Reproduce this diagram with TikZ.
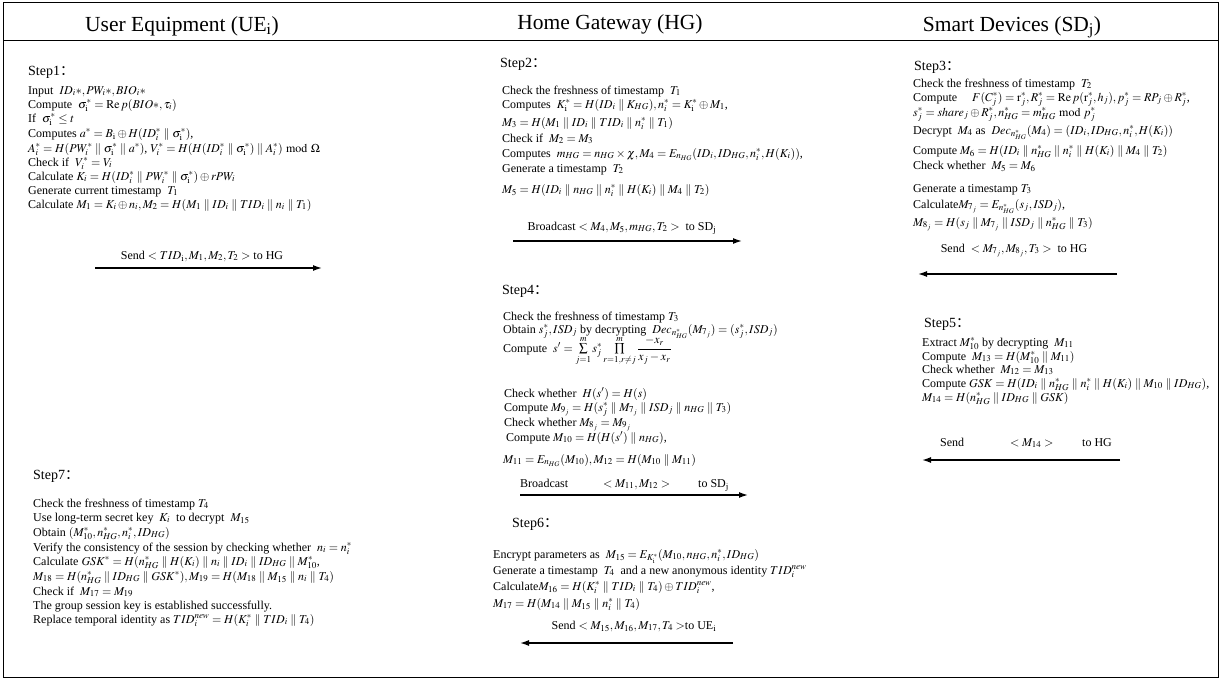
\documentclass[tikz,border=0pt]{standalone}
\usepackage{mathptmx}
\usepackage{fontspec}
\setmainfont{Liberation Serif}
\newfontfamily\cjkf{Noto Sans CJK SC}
\usetikzlibrary{arrows.meta}
\tikzset{
  ln/.style={anchor=base west, inner sep=0pt, font=\fontsize{12}{14}\selectfont},
  lbl/.style={anchor=base, inner sep=0pt, font=\fontsize{12}{14}\selectfont},
  hd/.style={anchor=base west, inner sep=0pt, font=\fontsize{14}{16}\selectfont},
  ttl/.style={anchor=base, inner sep=0pt, font=\fontsize{21.5}{24}\selectfont},
  msg/.style={line width=1.4pt, -{Latex[length=9pt,width=6pt]}},
  frame/.style={line width=0.9pt},
}
\newcommand\stc{{\cjkf ：}}
\newcommand\pl{\parallel}
\newcommand\ri{{\mathrm i}}
\begin{document}
\begin{tikzpicture}[x=1pt,y=-1pt]
\useasboundingbox (0,0) rectangle (1222,680);
\draw[frame] (3,2) rectangle (1218,677);
\draw[frame] (3,40) -- (1218,40);
\node[ttl] (tUE) at (182,31) {User Equipment (UE$_{\mathrm i}$)};
\node[ttl] (tHG) at (610,29) {Home Gateway (HG)};
\node[ttl] (tSD) at (1012,31) {Smart Devices (SD$_{\mathrm j}$)};

% Step 1
\node[hd] (s1h) at (28,75) {Step1\stc};
\node[ln] (s1a) at (28,94) {Input \ $ID_i{*}, PW_i{*}, BIO_i{*}$};
\node[ln] (s1b) at (28,108) {Compute \ $\sigma_\ri^* = \mathrm{Re}\,p(BIO{*},\tau_i)$};
\node[ln] (s1c) at (28,122) {If \ $\sigma_\ri^* \le t$};
\node[ln] (s1d) at (28,137) {Computes $a^* = B_\ri\oplus H(ID_i^*\pl\sigma_\ri^*)$,};
\node[ln] (s1e) at (28,152) {$A_i^* = H(PW_i^*\pl\sigma_\ri^*\pl a^*)$, $V_i^* = H(H(ID_i^*\pl\sigma_\ri^*)\pl A_i^*)\bmod\Omega$};
\node[ln] (s1f) at (28,166) {Check if \ $V_i^* = V_i$};
\node[ln] (s1g) at (28,180) {Calculate $K_i = H(ID_i^*\pl PW_i^*\pl\sigma_\ri^*)\oplus rPW_i$};
\node[ln] (s1i) at (28,194) {Generate current timestamp \ $T_1$};
\node[ln] (s1j) at (28,208) {Calculate $M_1 = K_i\oplus n_i, M_2 = H(M_1\pl ID_i\pl TID_i\pl n_i\pl T_1)$};
\node[lbl] (m1) at (202,259) {Send $<TID_\ri, M_1, M_2, T_2>$ to HG};
\coordinate (a1s) at (95,268);
\coordinate (a1e) at (322,268);
\draw[msg] (a1s) -- (a1e);

% Step 2
\node[hd] (s2h) at (500,67) {Step2\stc};
\node[ln] (s2a) at (502,94) {Check the freshness of timestamp \ $T_1$};
\node[ln] (s2b) at (502,108) {Computes \ $K_\ri^* = H(ID_i\pl K_{HG}), n_i^* = K_\ri^*\oplus M_1$,};
\node[ln] (s2c) at (502,126) {$M_3 = H(M_1\pl ID_i\pl TID_i\pl n_i^*\pl T_1)$};
\node[ln] (s2d) at (502,142) {Check if \ $M_2 = M_3$};
\node[ln] (s2e) at (502,157) {Computes \ $m_{HG} = n_{HG}\times\chi, M_4 = E_{n_{HG}}(ID_i, ID_{HG}, n_i^*, H(K_i))$,};
\node[ln] (s2f) at (502,172) {Generate a timestamp \ $T_2$};
\node[ln] (s2g) at (502,193) {$M_5 = H(ID_i\pl n_{HG}\pl n_i^*\pl H(K_i)\pl M_4\pl T_2)$};
\node[lbl] (m2) at (622,230) {Broadcast $<M_4, M_5, m_{HG}, T_2>$ \ to SD$_{\mathrm j}$};
\coordinate (a2s) at (513,241);
\coordinate (a2e) at (742,241);
\draw[msg] (a2s) -- (a2e);

% Step 3
\node[hd] (s3h) at (914,70) {Step3\stc};
\node[ln] (s3a) at (913,87) {Check the freshness of timestamp \ $T_2$};
\node[ln] (s3b) at (913,101) {Compute \quad $F(C_j^*) = \mathrm{r}_j^*, R_j^* = \mathrm{Re}\,p(\mathrm{r}_j^*, h_j), p_j^* = RP_j\oplus R_j^*$,};
\node[ln] (s3c) at (913,116) {$s_j^* = share_j\oplus R_j^*, n_{HG}^* = m_{HG}^* \bmod p_j^*$};
\node[ln] (s3d) at (913,134) {Decrypt \ $M_4$ as \ $Dec_{n_{HG}^*}(M_4) = (ID_i, ID_{HG}, n_i^*, H(K_i))$};
\node[ln] (s3e) at (913,154) {Compute $M_6 = H(ID_i\pl n_{HG}^*\pl n_i^*\pl H(K_i)\pl M_4\pl T_2)$};
\node[ln] (s3f) at (913,169) {Check whether \ $M_5 = M_6$};
\node[ln] (s3g) at (913,192) {Generate a timestamp $T_3$};
\node[ln] (s3i) at (913,208) {Calculate$M_{7_j} = E_{n_{HG}^*}(s_j, ISD_j)$,};
\node[ln] (s3j) at (913,226) {$M_{8_j} = H(s_j\pl M_{7_j}\pl ISD_j\pl n_{HG}^*\pl T_3)$};
\node[lbl] (m3) at (1014,252) {Send \ $<M_{7_j}, M_{8_j}, T_3>$ \ to HG};
\coordinate (a3s) at (1117,274);
\coordinate (a3e) at (918,274);
\draw[msg] (a3s) -- (a3e);

% Step 4
\node[hd] (s4h) at (502,294) {Step4\stc};
\node[ln] (s4a) at (503,320) {Check the freshness of timestamp $T_3$};
\node[ln] (s4b) at (503,333) {Obtain $s_j^*, ISD_j$ by decrypting \ $Dec_{n_{HG}^*}(M_{7_j}) = (s_j^*, ISD_j)$};
\node[ln] (s4c) at (503,352) {Compute \ $s' = \sum\limits_{j=1}^{m} s_j^* \prod\limits_{r=1,r\neq j}^{m} {\displaystyle\frac{-x_r}{x_j - x_r}}$};
\node[ln] (s4d) at (504,397) {Check whether \ $H(s') = H(s)$};
\node[ln] (s4e) at (504,411) {Compute $M_{9_j} = H(s_j^*\pl M_{7_j}\pl ISD_j\pl n_{HG}\pl T_3)$};
\node[ln] (s4f) at (504,426) {Check whether $M_{8_j} = M_{9_j}$};
\node[ln] (s4g) at (506,441) {Compute $M_{10} = H(H(s')\pl n_{HG})$,};
\node[ln] (s4i) at (503,463) {$M_{11} = E_{n_{HG}}(M_{10}), M_{12} = H(M_{10}\pl M_{11})$};
\node[ln] (m4a) at (520,487) {Broadcast};
\node[ln] (m4b) at (603,487) {$<M_{11}, M_{12}>$};
\node[ln] (m4c) at (698,487) {to SD$_{\mathrm j}$};
\coordinate (a4s) at (520,495);
\coordinate (a4e) at (748,495);
\draw[msg] (a4s) -- (a4e);

% Step 5
\node[hd] (s5h) at (924,327) {Step5\stc};
\node[ln] (s5a) at (922,346) {Extract $M_{10}^*$ by decrypting \ $M_{11}$};
\node[ln] (s5b) at (922,360) {Compute \ $M_{13} = H(M_{10}^*\pl M_{11})$};
\node[ln] (s5c) at (922,373) {Check whether \ $M_{12} = M_{13}$};
\node[ln] (s5d) at (922,387) {Compute $GSK = H(ID_i\pl n_{HG}^*\pl n_i^*\pl H(K_i)\pl M_{10}\pl ID_{HG})$,};
\node[ln] (s5e) at (922,401) {$M_{14} = H(n_{HG}^*\pl ID_{HG}\pl GSK)$};
\node[ln] (m5a) at (940,446) {Send};
\node[ln] (m5b) at (1010,446) {$<M_{14}>$};
\node[ln] (m5c) at (1082,446) {to HG};
\coordinate (a5s) at (1120,460);
\coordinate (a5e) at (922,460);
\draw[msg] (a5s) -- (a5e);

% Step 6
\node[hd] (s6h) at (512,527) {Step6\stc};
\node[ln] (s6a) at (493,558) {Encrypt parameters as \ $M_{15} = E_{K_\ri^*}(M_{10}, n_{HG}, n_i^*, ID_{HG})$};
\node[ln] (s6b) at (493,574) {Generate a timestamp \ $T_4$ \ and a new anonymous identity $TID_i^{new}$};
\node[ln] (s6c) at (493,590) {Calculate$M_{16} = H(K_i^*\pl TID_i\pl T_4)\oplus TID_i^{new}$,};
\node[ln] (s6d) at (493,607) {$M_{17} = H(M_{14}\pl M_{15}\pl n_i^*\pl T_4)$};
\node[lbl] (m6) at (634,629) {Send $<M_{15}, M_{16}, M_{17}, T_4>$to UE$_{\mathrm i}$};
\coordinate (a6s) at (733,643);
\coordinate (a6e) at (520,643);
\draw[msg] (a6s) -- (a6e);

% Step 7
\node[hd] (s7h) at (33,479) {Step7\stc};
\node[ln] (s7a) at (33,507) {Check the freshness of timestamp $T_4$};
\node[ln] (s7b) at (33,521) {Use long-term secret key \ $K_i$ \ to decrypt \ $M_{15}$};
\node[ln] (s7c) at (33,536) {Obtain $(M_{10}^*, n_{HG}^*, n_i^*, ID_{HG})$};
\node[ln] (s7d) at (33,551) {Verify the consistency of the session by checking whether \ $n_i = n_i^*$};
\node[ln] (s7e) at (33,565) {Calculate $GSK^* = H(n_{HG}^*\pl H(K_i)\pl n_i\pl ID_i\pl ID_{HG}\pl M_{10}^*$,};
\node[ln] (s7f) at (33,580) {$M_{18} = H(n_{HG}^*\pl ID_{HG}\pl GSK^*), M_{19} = H(M_{18}\pl M_{15}\pl n_i\pl T_4)$};
\node[ln] (s7g) at (33,595) {Check if \ $M_{17} = M_{19}$};
\node[ln] (s7i) at (33,609) {The group session key is established successfully.};
\node[ln] (s7j) at (33,623) {Replace temporal identity as $TID_i^{new} = H(K_i^*\pl TID_i\pl T_4)$};
\end{tikzpicture}
\end{document}
